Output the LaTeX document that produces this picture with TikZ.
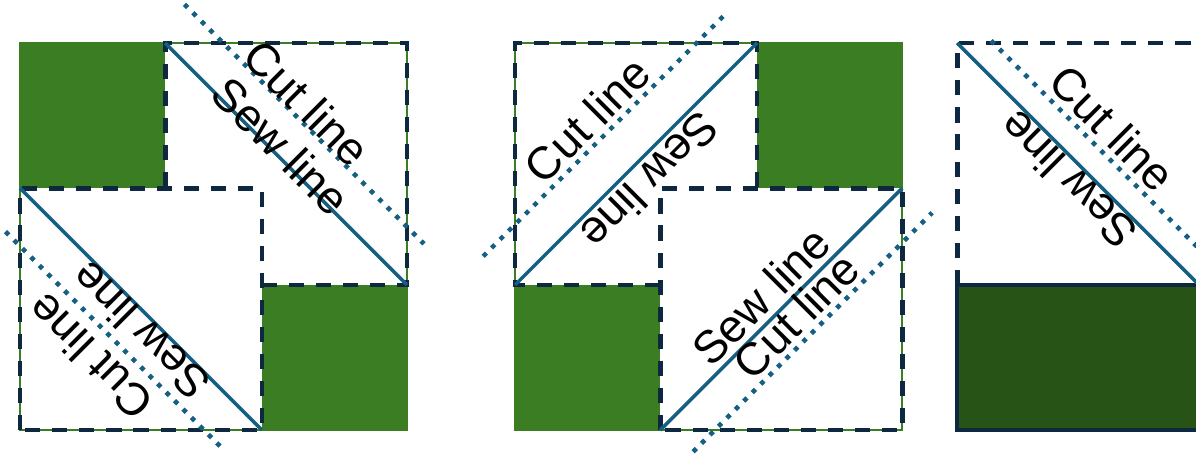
\documentclass[tikz,border=0pt]{standalone}
\usepackage{fontspec}
\setmainfont{Liberation Sans}
\definecolor{quiltgreen}{HTML}{3B7D23}
\definecolor{darkgreen}{HTML}{275317}
\definecolor{seamnavy}{HTML}{0E2841}
\definecolor{sewblue}{HTML}{156082}
\begin{document}
\begin{tikzpicture}[x=0.48375cm, y=0.48375cm]
	\tikzset{patch/.style={fill=quiltgreen}, edge/.style={draw=quiltgreen, line width=0.5pt},
	hst/.style={draw=seamnavy, line width=1.35pt, dash pattern=on 4.3pt off 3.4pt},
	sew/.style={draw=sewblue, line width=1pt},
	cut/.style={draw=sewblue, line width=1.3pt, dash pattern=on 1.3pt off 2.1pt},
	lbl/.style={inner sep=0pt, font=\fontsize{13}{15}\selectfont}};
	\useasboundingbox (0,0) rectangle (24.72,9.364);
	\clip (0,0) rectangle (24.72,9.364);

	% first block
	\begin{scope}[shift={(0.413,0.475)}]
		\draw[edge] (0,0) rectangle (8,8);
		\foreach \x/\y in {0/5, 5/0}{
			\fill[patch] (\x,\y) rectangle ++(3,3);
		}
		\draw[hst] (5,3) -- (8,3) -- (8,8) -- (3,8) -- (3,5);
		\draw[hst] (0,0) rectangle (5,5);
		\draw[sew] (3,8) -- (8,3);
		\draw[sew] (0,5) -- (5,0);
		\draw[cut] (3.4,8.8) -- (8.35,3.85);
		\draw[cut] (-0.3,4.1) -- (4.15,-0.35);
		\node[lbl, rotate=-45] (cutA) at (5.93,6.76) {Cut line};
		\node[lbl, rotate=-45] (sewA) at (5.40,5.87) {Sew line};
		\node[lbl, rotate=135] (sewB) at (2.49,2.05) {Sew line};
		\node[lbl, rotate=135] (cutB) at (1.45,1.51) {Cut line};
	\end{scope}

	% second block
	\begin{scope}[shift={(10.646,0.475)}]
		\draw[edge] (0,0) rectangle (8,8);
		\foreach \x/\y in {5/5, 0/0}{
			\fill[patch] (\x,\y) rectangle ++(3,3);
		}
		\draw[hst] (3,3) -- (0,3) -- (0,8) -- (5,8) -- (5,5);
		\draw[hst] (3,0) rectangle (8,5);
		\draw[sew] (0,3) -- (5,8);
		\draw[sew] (3,0) -- (8,5);
		\draw[cut] (-0.66,3.59) -- (4.38,8.63);
		\draw[cut] (3.68,-0.45) -- (8.62,4.49);
		\node[lbl, rotate=45] (cutC) at (1.49,6.41) {Cut line};
		\node[lbl, rotate=225] (sewC) at (2.79,5.15) {Sew line};
		\node[lbl, rotate=45] (sewD) at (5.08,2.77) {Sew line};
		\node[lbl, rotate=45] (cutD) at (5.81,2.36) {Cut line};
	\end{scope}

	% third block, cut off at the right
	\begin{scope}[shift={(19.783,0.475)}]
		\draw[seamnavy, fill=darkgreen, line width=1pt] (0,0) rectangle (8,3);
		\draw[hst] (0,3) rectangle (5,8);
		\draw[sew] (0,8) -- (5,3);
		\draw[cut] (0.7,8.05) -- (6,2.75);
		\node[lbl, rotate=-45] (cutE) at (3.21,6.24) {Cut line};
		\node[lbl, rotate=135] (sewE) at (2.29,5.17) {Sew line};
	\end{scope}
\end{tikzpicture}
\end{document}
